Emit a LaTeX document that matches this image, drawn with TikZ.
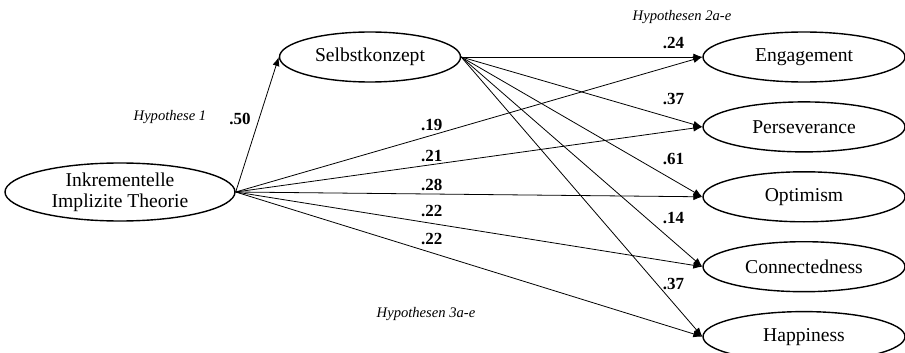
\documentclass[tikz,border=0pt]{standalone}
\usepackage{fontspec}
\setmainfont{Liberation Serif}
\usepackage{tikz}
\usetikzlibrary{positioning}
\usetikzlibrary{arrows,arrows.meta}
\usetikzlibrary{shapes}
\tikzstyle{latent} = [draw, ellipse, line width=0.7pt, inner sep=0pt, font=\fontsize{9.8}{10.5}\selectfont, align=center]
\tikzstyle{outcome} = [latent, minimum width=101pt, minimum height=25pt]
\tikzstyle{coef} = [font=\fontsize{8.5}{9}\selectfont\bfseries, inner sep=1pt]
\tikzstyle{hyp} = [font=\fontsize{7.3}{8}\selectfont\itshape]

\begin{document}
\begin{tikzpicture}[>={Latex[length=4.5pt,width=3.5pt]}, x=0.5pt, y=-0.5pt]
	\useasboundingbox (0,0) rectangle (905,353);

	\node [latent, minimum width=115pt, minimum height=29pt] (theorie) at (120,192) {Inkrementelle\\Implizite Theorie};
	\node [latent, minimum width=90.5pt, minimum height=25pt] (selbst) at (370,57) {Selbstkonzept};

	\node [outcome] (engagement) at (804,57) {Engagement};
	\node [outcome, node distance=9.25pt, below=of engagement] (perseverance) {Perseverance};
	\node [outcome, node distance=9.25pt, below=of perseverance] (optimism) {Optimism};
	\node [outcome, node distance=9.25pt, below=of optimism] (connected) {Connectedness};
	\node [outcome, node distance=9.25pt, below=of connected] (happiness) {Happiness};

	\node [hyp] (hyp1) at (170,117) {Hypothese 1};
	\node [hyp] (hyp2) at (682,17) {Hypothesen 2a-e};
	\node [hyp] (hyp3) at (426,314) {Hypothesen 3a-e};

	\draw [->] (theorie.east) -- node [coef, pos=0.54, left, xshift=-3pt] {.50} (selbst.west);

	\draw [->] (theorie.east) -- node [coef, pos=0.42, yshift=5pt] {.19} (engagement.west);
	\draw [->] (theorie.east) -- node [coef, pos=0.42, yshift=4.5pt] {.21} (perseverance.west);
	\draw [->] (theorie.east) -- node [coef, pos=0.42, yshift=4.5pt] {.28} (optimism.west);
	\draw [->] (theorie.east) -- node [coef, pos=0.42, yshift=6pt] {.22} (connected.west);
	\draw [->] (theorie.east) -- node [coef, pos=0.42, yshift=7pt] {.22} (happiness.west);

	\draw [->] (selbst.east) -- node [coef, pos=0.88, yshift=7pt] {.24} (engagement.west);
	\draw [->] (selbst.east) -- node [coef, pos=0.88, yshift=10pt] {.37} (perseverance.west);
	\draw [->] (selbst.east) -- node [coef, pos=0.88, yshift=10.5pt] {.61} (optimism.west);
	\draw [->] (selbst.east) -- node [coef, pos=0.88, yshift=12pt] {.14} (connected.west);
	\draw [->] (selbst.east) -- node [coef, pos=0.88, yshift=9.5pt] {.37} (happiness.west);

\end{tikzpicture}
\end{document}
